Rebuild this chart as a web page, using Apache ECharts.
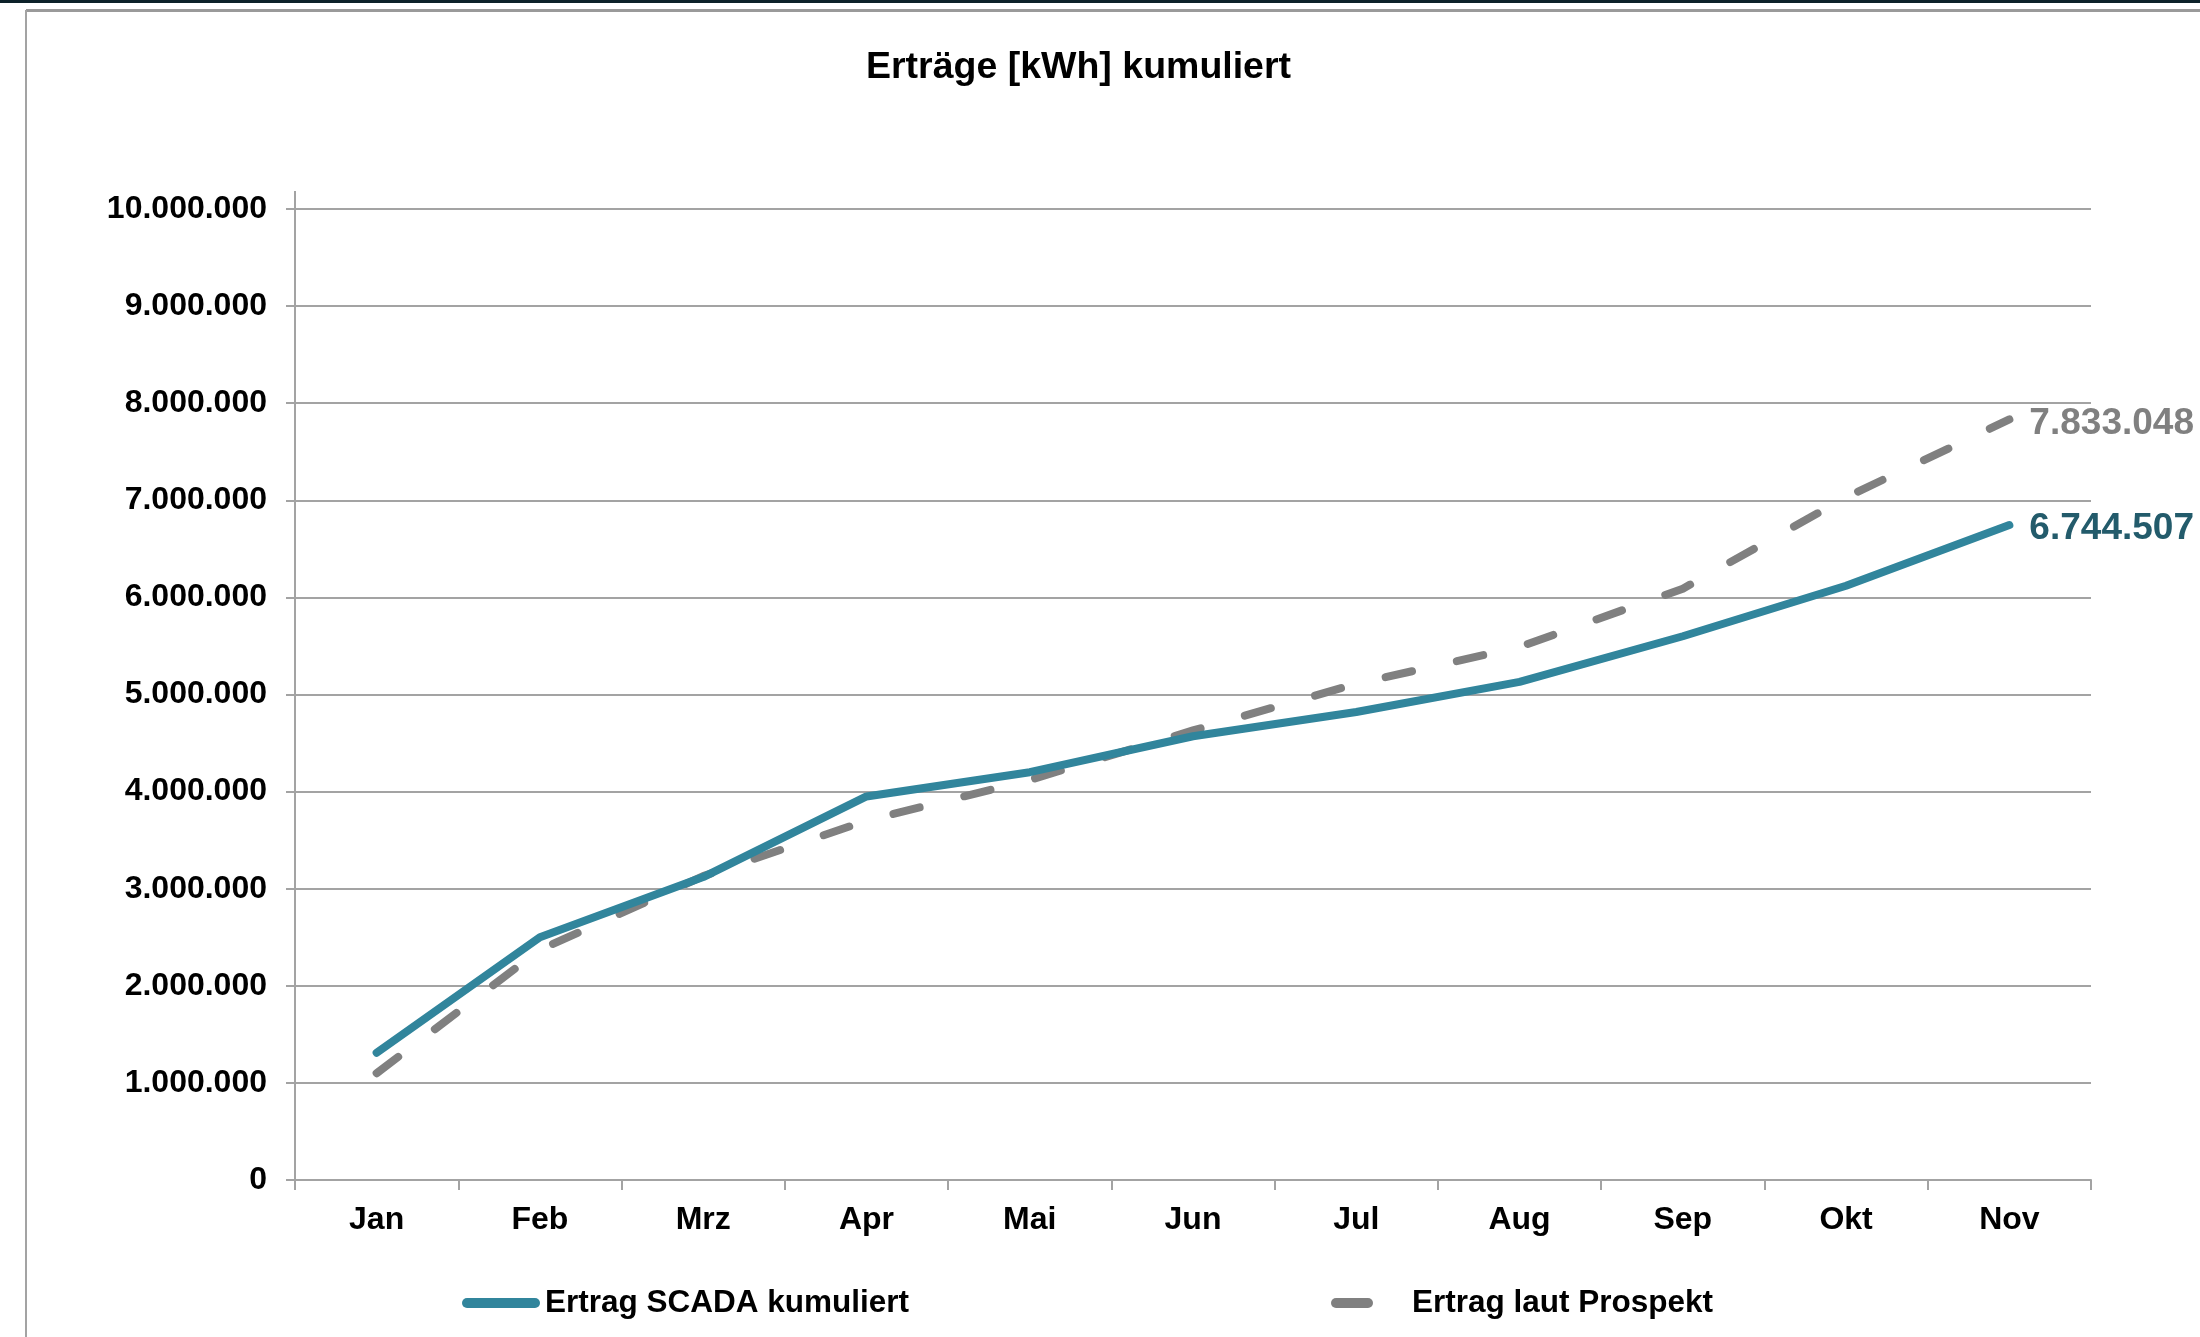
<!DOCTYPE html>
<html>
<head>
<meta charset="utf-8">
<title>Erträge kumuliert</title>
<script src="https://cdn.jsdelivr.net/npm/echarts@6/dist/echarts.min.js"></script>
<style>
  html, body { margin: 0; padding: 0; background: #fff; }
  #echart-box { width: 2200px; height: 1337px; }
</style>
</head>
<body>
<div id="echart-box"></div>
<script>
// Monate
var months = ['Jan', 'Feb', 'Mrz', 'Apr', 'Mai', 'Jun', 'Jul', 'Aug', 'Sep', 'Okt', 'Nov'];
// kumulierte Erträge in kWh
var scadaValues = [1310000, 2500000, 3120000, 3950000, 4200000, 4570000, 4820000, 5130000, 5600000, 6120000, 6744507];
var prospektValues = [1100000, 2370000, 3130000, 3700000, 4120000, 4630000, 5110000, 5490000, 6090000, 7030000, 7833048];
var seriesNames = ['Ertrag SCADA kumuliert', 'Ertrag laut Prospekt'];

var TEAL = '#31859c';
var TEAL_DARK = '#235b6b';
var GREY = '#808080';
var AXIS_GREY = '#a3a3a3';
var FONT = '"Liberation Sans", Arial, sans-serif';

// 1234567 -> 1.234.567
function fmt(v) {
  return String(Math.round(v)).replace(/\B(?=(\d{3})+(?!\d))/g, '.');
}

// Kapsel-Symbole für die Legende (runde Enden wie in Excel)
var capsuleLong = 'path://M5,0 H73 A5,5 0 0 1 73,10 H5 A5,5 0 0 1 5,0 Z';
var capsuleShort = 'path://M5,0 H37 A5,5 0 0 1 37,10 H5 A5,5 0 0 1 5,0 Z';

var myChart = echarts.init(document.getElementById('echart-box'), null, { renderer: 'canvas' });

var option = {
  backgroundColor: '#fff',
  animation: false,
  title: {
    text: 'Erträge [kWh] kumuliert',
    left: 866,
    top: 49,
    padding: 0,
    textStyle: { fontFamily: FONT, fontSize: 37.5, fontWeight: 'bold', color: '#000' }
  },
  graphic: [
    { type: 'rect', shape: { x: 0, y: 0, width: 2200, height: 3 }, style: { fill: '#0c2129' }, silent: true },
    { type: 'line', shape: { x1: 26, y1: 10.5, x2: 2200, y2: 10.5 }, style: { stroke: '#9a9a9a', lineWidth: 3 }, silent: true },
    { type: 'line', shape: { x1: 26, y1: 10, x2: 26, y2: 1337 }, style: { stroke: AXIS_GREY, lineWidth: 2 }, silent: true },
    // Achse ragt etwas über die oberste Gitterlinie hinaus
    { type: 'line', shape: { x1: 295, y1: 191, x2: 295, y2: 209 }, style: { stroke: AXIS_GREY, lineWidth: 2 }, silent: true }
  ],
  legend: [
    {
      data: [{ name: seriesNames[0], icon: capsuleLong, itemStyle: { color: TEAL } }],
      left: 462,
      top: 1287,
      padding: 0,
      itemWidth: 78,
      itemHeight: 11,
      selectedMode: false,
      textStyle: { fontFamily: FONT, fontSize: 31.5, fontWeight: 'bold', color: '#000' }
    },
    {
      data: [{ name: seriesNames[1], icon: capsuleShort, itemStyle: { color: GREY } }],
      left: 1331,
      top: 1287,
      padding: 0,
      itemWidth: 42,
      itemHeight: 11,
      selectedMode: false,
      textStyle: { fontFamily: FONT, fontSize: 31.5, fontWeight: 'bold', color: '#000', padding: [0, 0, 0, 34] }
    }
  ],
  grid: {
    left: 295,
    right: 109,
    top: 209,
    bottom: 157,
    containLabel: false
  },
  xAxis: {
    type: 'category',
    data: months,
    boundaryGap: true,
    axisLine: { show: true, lineStyle: { color: AXIS_GREY, width: 2 } },
    axisTick: { show: true, length: 10, lineStyle: { color: AXIS_GREY, width: 2 } },
    axisLabel: { margin: 24, fontFamily: FONT, fontSize: 32, fontWeight: 'bold', color: '#000' },
    splitLine: { show: false }
  },
  yAxis: {
    type: 'value',
    min: 0,
    max: 10000000,
    interval: 1000000,
    axisLine: { show: true, lineStyle: { color: AXIS_GREY, width: 2 } },
    axisTick: { show: true, length: 9, lineStyle: { color: AXIS_GREY, width: 2 } },
    axisLabel: {
      margin: 28,
      fontFamily: FONT,
      fontSize: 32,
      fontWeight: 'bold',
      color: '#000',
      formatter: function (v) { return fmt(v); }
    },
    splitLine: { show: true, lineStyle: { color: AXIS_GREY, width: 2 } }
  },
  series: [
    {
      name: seriesNames[1],
      type: 'line',
      data: prospektValues,
      symbol: 'none',
      color: GREY,
      z: 3,
      lineStyle: { color: GREY, width: 8, type: [27, 46], cap: 'round', join: 'round' },
      endLabel: {
        show: true,
        distance: 20,
        offset: [0, 4],
        fontFamily: FONT,
        fontSize: 37,
        fontWeight: 'bold',
        color: GREY,
        formatter: function (p) { return fmt(p.value); }
      }
    },
    {
      name: seriesNames[0],
      type: 'line',
      data: scadaValues,
      symbol: 'none',
      color: TEAL,
      z: 4,
      lineStyle: { color: TEAL, width: 8, cap: 'round', join: 'round' },
      endLabel: {
        show: true,
        distance: 20,
        offset: [0, 4],
        fontFamily: FONT,
        fontSize: 37,
        fontWeight: 'bold',
        color: TEAL_DARK,
        formatter: function (p) { return fmt(p.value); }
      }
    }
  ]
};

myChart.setOption(option);
</script>
</body>
</html>
